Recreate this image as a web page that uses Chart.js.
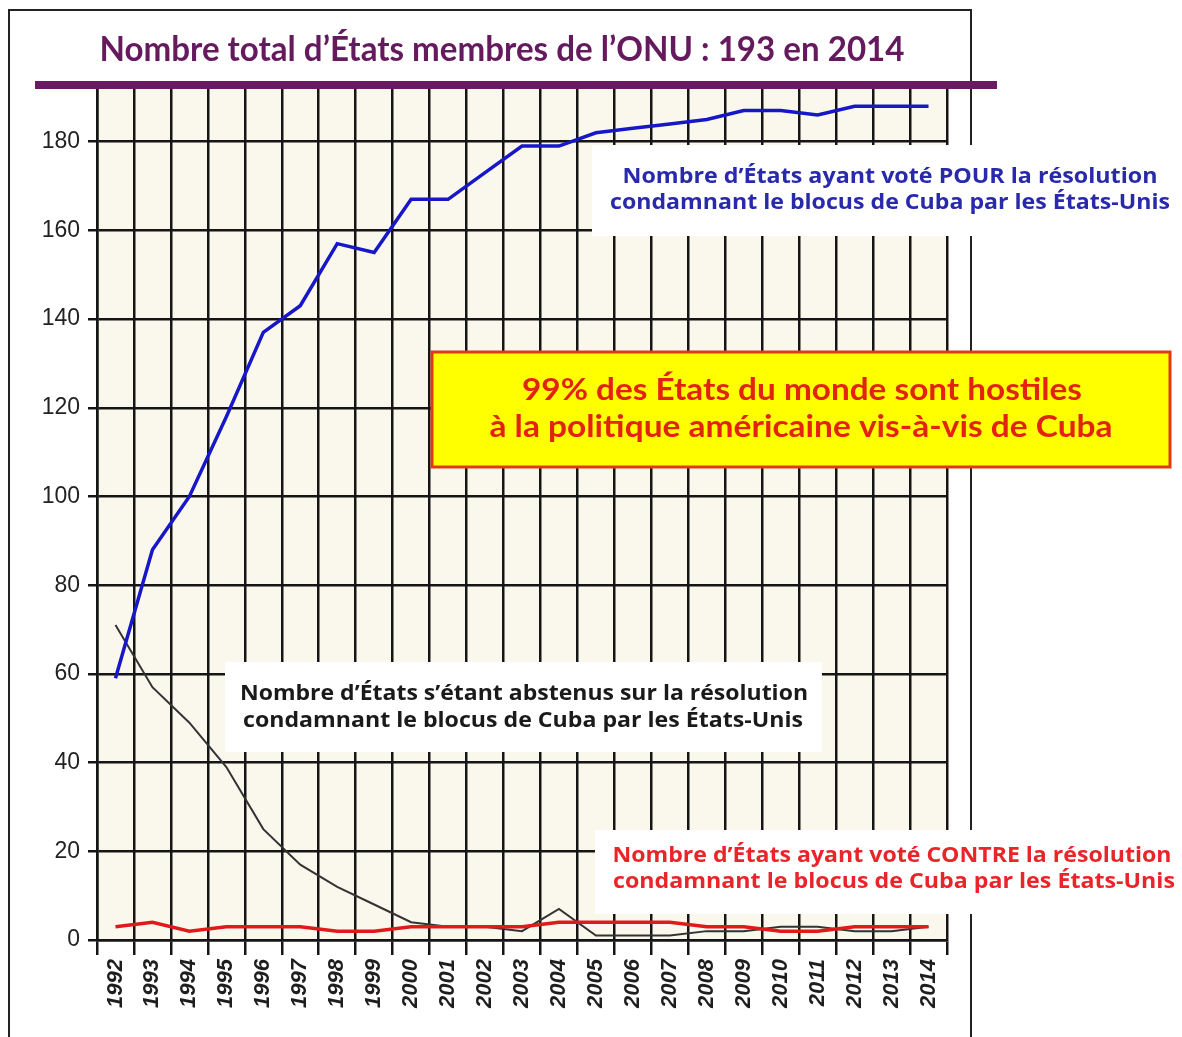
<!DOCTYPE html>
<html>
<head>
<meta charset="utf-8">
<script src="https://cdn.jsdelivr.net/npm/chart.js@4/dist/chart.umd.min.js"></script>
<style>
html,body{margin:0;padding:0;background:#fff;}
canvas{display:block;}
</style>
</head>
<body>
<canvas id="c" width="1182" height="1037"></canvas>
<script>
// ---- data ----
const years = ['1992','1993','1994','1995','1996','1997','1998','1999','2000','2001','2002','2003','2004','2005','2006','2007','2008','2009','2010','2011','2012','2013','2014'];
const votesFor     = [59, 88, 100, 118, 137, 143, 157, 155, 167, 167, 173, 179, 179, 182, 183, 184, 185, 187, 187, 186, 188, 188, 188];
const votesAgainst = [3, 4, 2, 3, 3, 3, 2, 2, 3, 3, 3, 3, 4, 4, 4, 4, 3, 3, 2, 2, 3, 3, 3];
const abstentions  = [71, 57, 49, 39, 25, 17, 12, 8, 4, 3, 3, 2, 7, 1, 1, 1, 2, 2, 3, 3, 2, 2, 3];
const yTickValues  = [0, 20, 40, 60, 80, 100, 120, 140, 160, 180];
const totalMembers = 193;
const lastYear = '2014';

const titleText = 'Nombre total d’États membres de l’ONU : ' + totalMembers + ' en ' + lastYear;
const forLabel = ['Nombre d’États ayant voté POUR la résolution', 'condamnant le blocus de Cuba par les États-Unis'];
const abstLabel = ['Nombre d’États s’étant abstenus sur la résolution', 'condamnant le blocus de Cuba par les États-Unis'];
const againstLabel = ['Nombre d’États ayant voté CONTRE la résolution', 'condamnant le blocus de Cuba par les États-Unis'];
const calloutLabel = ['99% des États du monde sont hostiles', 'à la politique américaine vis-à-vis de Cuba'];

function fitText(ctx, text, cx, cy, w, font, color) {
  ctx.save();
  ctx.font = font;
  const m = ctx.measureText(text).width;
  ctx.translate(cx, cy);
  ctx.scale(w / m, 1);
  ctx.textAlign = 'center';
  ctx.textBaseline = 'middle';
  ctx.fillStyle = color;
  ctx.fillText(text, 0, 0);
  ctx.restore();
}

const decor = {
  id: 'decor',
  beforeDraw(chart) {
    const ctx = chart.ctx, a = chart.chartArea;
    ctx.save();
    ctx.fillStyle = '#ffffff';
    ctx.fillRect(0, 0, chart.width, chart.height);
    ctx.fillStyle = '#faf8ec';
    ctx.fillRect(a.left, a.top, a.right - a.left, a.bottom - a.top);
    // outer frame
    ctx.strokeStyle = '#222';
    ctx.lineWidth = 2;
    ctx.beginPath();
    ctx.moveTo(9, 1037); ctx.lineTo(9, 10); ctx.lineTo(971, 10); ctx.lineTo(971, 1037);
    ctx.stroke();
    ctx.restore();
  },
  beforeDatasetsDraw(chart) {
    const ctx = chart.ctx;
    ctx.save();
    // white label backgrounds
    ctx.fillStyle = '#ffffff';
    ctx.fillRect(592, 145, 590, 91);
    ctx.fillRect(225, 662, 597, 90);
    ctx.fillRect(595, 830, 587, 84);
    // purple line (total members)
    const yTop = chart.scales.y.getPixelForValue(totalMembers);
    ctx.strokeStyle = '#6a1a60';
    ctx.lineWidth = 8;
    ctx.beginPath();
    ctx.moveTo(35, yTop + 1); ctx.lineTo(997, yTop + 1);
    ctx.stroke();
    // yellow callout
    ctx.fillStyle = '#ffff00';
    ctx.fillRect(432, 352, 738, 115);
    ctx.strokeStyle = '#e03a12';
    ctx.lineWidth = 3;
    ctx.strokeRect(432, 352, 738, 115);
    ctx.restore();

    fitText(ctx, titleText, 502, 50, 805, 'bold 34px Lato', '#661a5e');
    fitText(ctx, forLabel[0], 890, 177, 535, 'bold 21px "Open Sans"', '#2929ac');
    fitText(ctx, forLabel[1], 890, 203, 560, 'bold 21px "Open Sans"', '#2929ac');
    fitText(ctx, calloutLabel[0], 802, 390, 560, 'bold 30px Lato', '#e2240f');
    fitText(ctx, calloutLabel[1], 801, 427, 623, 'bold 30px Lato', '#e2240f');
    fitText(ctx, abstLabel[0], 524, 694, 568, 'bold 21px "Open Sans"', '#1a1a1a');
    fitText(ctx, abstLabel[1], 523, 721, 560, 'bold 21px "Open Sans"', '#1a1a1a');
    fitText(ctx, againstLabel[0], 892, 856, 559, 'bold 21px "Open Sans"', '#e8262a');
    fitText(ctx, againstLabel[1], 894, 882, 562, 'bold 21px "Open Sans"', '#e8262a');
  }
};

new Chart(document.getElementById('c'), {
  type: 'line',
  data: {
    labels: years,
    datasets: [
      { label: 'Pour', data: votesFor, borderColor: '#1717c8', borderWidth: 3.5, pointRadius: 0, tension: 0 },
      { label: 'Contre', data: votesAgainst, borderColor: '#e01a1a', borderWidth: 3.5, pointRadius: 0, tension: 0 },
      { label: 'Abstentions', data: abstentions, borderColor: '#333333', borderWidth: 2, pointRadius: 0, tension: 0 }
    ]
  },
  options: {
    responsive: false,
    animation: false,
    devicePixelRatio: 1,
    layout: { padding: { top: 84, right: 235, bottom: 0, left: 0 } },
    plugins: { legend: { display: false }, tooltip: { enabled: false }, title: { display: false } },
    scales: {
      x: {
        offset: true,
        grid: { offset: true, color: '#151515', lineWidth: 2.5, tickLength: 15, drawOnChartArea: true },
        border: { color: '#151515', width: 2.5 },
        ticks: {
          minRotation: 90, maxRotation: 90, padding: 4, autoSkip: false,
          color: '#1e1e1e', font: { family: 'Liberation Sans', size: 22, weight: 'bold', style: 'italic' }
        },
        afterFit(s) { s.height = 97; }
      },
      y: {
        min: 0, max: totalMembers,
        afterBuildTicks(s) { s.ticks = yTickValues.map(v => ({ value: v })); },
        grid: { color: '#151515', lineWidth: 2.5, tickLength: 9 },
        border: { color: '#151515', width: 2.5 },
        ticks: { padding: 8, color: '#222', font: { family: 'Liberation Sans', size: 23 } },
        afterFit(s) { s.width = 97; }
      }
    }
  },
  plugins: [decor]
});
</script>
</body>
</html>
